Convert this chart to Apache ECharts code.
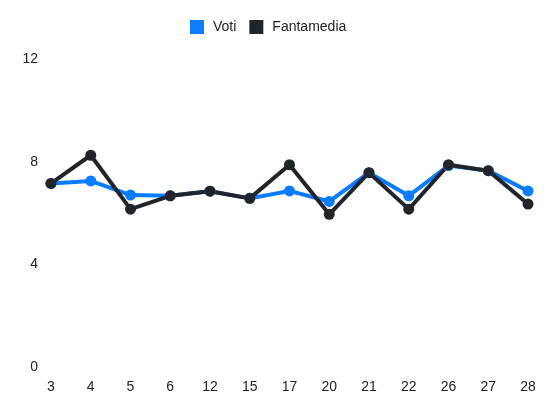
<!DOCTYPE html>
<html>
<head>
<meta charset="utf-8">
<script src="https://cdn.jsdelivr.net/npm/echarts@6/dist/echarts.min.js"></script>
<style>
html, body { margin: 0; padding: 0; background: #fff; }
#chart { width: 550px; height: 412px; }
</style>
</head>
<body>
<div id="chart"></div>
<script>
var giornate = ['3', '4', '5', '6', '12', '15', '17', '20', '21', '22', '26', '27', '28'];
var voti = [7.15, 7.25, 6.7, 6.67, 6.85, 6.57, 6.86, 6.45, 7.57, 6.67, 7.85, 7.65, 6.86];
var fantamedia = [7.15, 8.25, 6.15, 6.67, 6.85, 6.57, 7.88, 5.95, 7.57, 6.15, 7.88, 7.65, 6.35];
var yTicks = [0, 4, 8, 12];

var option = {
	animation: false,
	textStyle: { fontFamily: 'Liberation Sans, Arial, sans-serif' },
	legend: {
		top: 15,
		left: 185,
		itemWidth: 14,
		itemHeight: 14,
		itemGap: 13,
		icon: 'rect',
		textStyle: { fontSize: 14, color: '#222', padding: [0, 0, 0, 4] },
		data: ['Voti', 'Fantamedia']
	},
	grid: { left: 51, right: 22, top: 59, bottom: 45, containLabel: false },
	xAxis: {
		type: 'category',
		boundaryGap: false,
		data: giornate,
		axisLine: { show: false },
		axisTick: { show: false },
		axisLabel: { color: '#222', fontSize: 14, margin: 13 }
	},
	yAxis: {
		type: 'value',
		min: yTicks[0],
		max: yTicks[yTicks.length - 1],
		interval: 4,
		splitLine: { show: false },
		axisLine: { show: false },
		axisTick: { show: false },
		axisLabel: { color: '#222', fontSize: 14, margin: 13 }
	},
	series: [{
		name: 'Voti',
		type: 'line',
		data: voti,
		color: '#0a7cff',
		symbol: 'circle',
		symbolSize: 11,
		lineStyle: { width: 4 }
	}, {
		name: 'Fantamedia',
		type: 'line',
		data: fantamedia,
		color: '#212529',
		symbol: 'circle',
		symbolSize: 11,
		lineStyle: { width: 4 }
	}]
};
var chart = echarts.init(document.getElementById('chart'));
chart.setOption(option);
</script>
</body>
</html>
